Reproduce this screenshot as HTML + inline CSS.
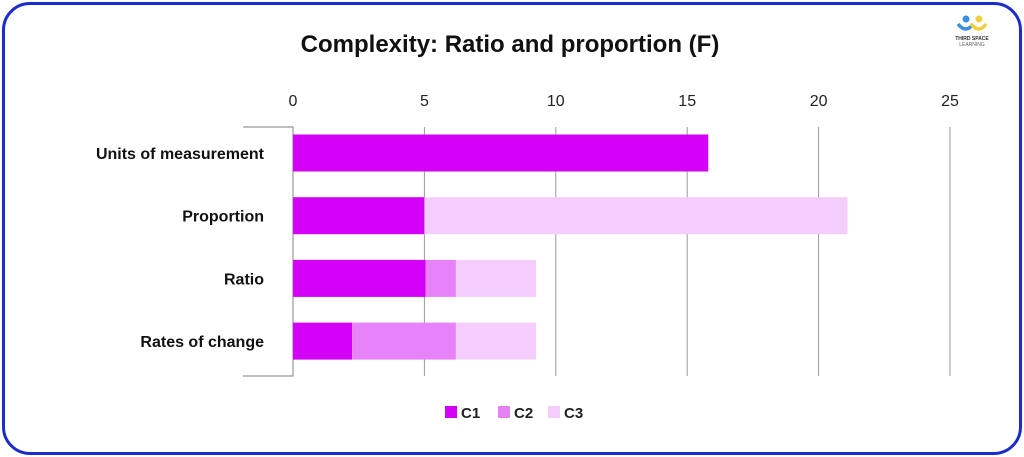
<!DOCTYPE html>
<html><head><meta charset="utf-8"><style>
body{margin:0;width:1024px;height:457px;background:#fff;overflow:hidden;font-family:"Liberation Sans",sans-serif}
.frame{position:absolute;left:2px;top:2px;width:1014px;height:447px;border:3px solid #1a2dcc;border-radius:28px;box-sizing:content-box}
</style></head><body>
<div class="frame"></div>
<svg width="1024" height="457" style="position:absolute;left:0;top:0">
<text x="510" y="52" text-anchor="middle" font-size="24" font-weight="bold" fill="#111">Complexity: Ratio and proportion (F)</text>
<g>
<circle cx="966" cy="19" r="3.5" fill="#3a8fe0"/><circle cx="979" cy="19" r="3.5" fill="#f0d040"/>
<path d="M958 24 q8 10 15 0" stroke="#3a8fe0" stroke-width="3.5" fill="none"/>
<path d="M971 24 q8 10 15 0" stroke="#f0d040" stroke-width="3.5" fill="none"/>
<text x="972" y="40" text-anchor="middle" font-size="5" font-weight="bold" fill="#333">THIRD SPACE</text>
<text x="972" y="46" text-anchor="middle" font-size="5" fill="#666">LEARNING</text>
</g>
<g id="plot"></g>
</svg>
<script>
const categories=["Units of measurement","Proportion","Ratio","Rates of change"];
const c1=[15.8,5,5.05,2.25];
const c2=[0,0,1.15,3.95];
const c3=[0,16.1,3.05,3.05];
const ticks=[0,5,10,15,20,25];
const seriesNames=["C1","C2","C3"];
const colors=["#d400f5","#e882f8","#f5cdfc"];
const ns="http://www.w3.org/2000/svg";
const g=document.getElementById('plot');
const x=v=>293+v*26.28;
const top0=127,bot=376;
const y=i=>153+i*62.7;
function mk(t,a){const e=document.createElementNS(ns,t);for(const k in a)e.setAttribute(k,a[k]);g.appendChild(e);return e;}
ticks.forEach(t=>{
 if(t>0){const l=mk('line',{x1:x(t),x2:x(t),y1:top0,y2:bot,stroke:'#999','stroke-width':1});
 
 }
 const tx=mk('text',{x:x(t),y:106,'text-anchor':'middle','font-size':16,fill:'#222'});tx.textContent=t;
 
 
});
const ax=mk('path',{d:`M243 ${top0}H293V${bot}H243`,stroke:'#999',fill:'none','stroke-width':1.2});


const series=[c1,c2,c3];
categories.forEach((c,i)=>{
 const cy=y(i);
 const lb=mk('text',{x:264,y:cy+6,'text-anchor':'end','font-size':16,'font-weight':'bold',fill:'#111'});lb.textContent=c;
 
 
 let acc=0;
 series.forEach((s,j)=>{
  const v=s[i];if(v<=0)return;
  const r=mk('rect',{x:x(acc),y:cy-18.5,width:x(acc+v)-x(acc),height:37,fill:colors[j]});
  
  
  acc+=v;
 });
});
const lx=[445,498,548];
seriesNames.forEach((n,j)=>{
 const r=mk('rect',{x:lx[j],y:406,width:12,height:12,fill:colors[j]});
 
 
 const t=mk('text',{x:lx[j]+16,y:418,'font-size':15,'font-weight':'bold',fill:'#222'});t.textContent=n;
 
 
});
</script>
</body></html>
